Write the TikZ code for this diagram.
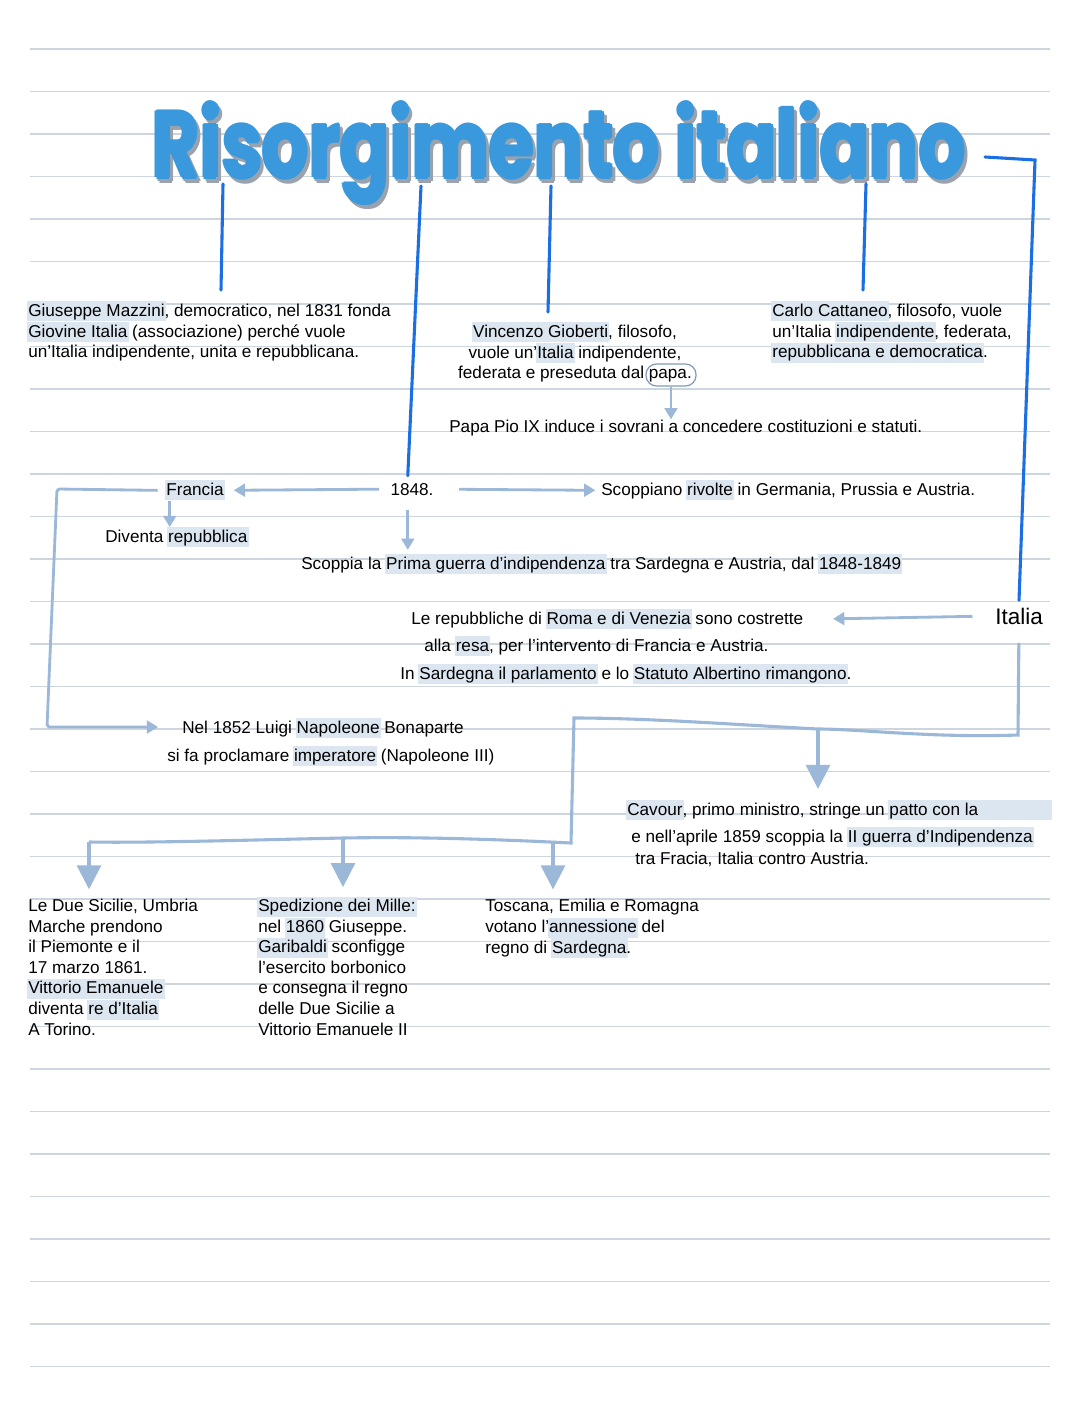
\documentclass[tikz,border=0pt]{standalone}
\usepackage{graphicx}
\usepackage{fontspec}
\setmainfont{Liberation Sans}
\newfontfamily\titlefont{Poppins}
\usetikzlibrary{arrows.meta,positioning}

\definecolor{pen}{HTML}{1C6FE3}
\definecolor{freccia}{HTML}{9BB8D8}
\definecolor{evid}{HTML}{DCE6F0}
\definecolor{riga}{HTML}{CDD5DE}
\definecolor{titolo}{HTML}{3A98DD}
\definecolor{ombra}{HTML}{9AA3AD}

\newcommand{\ev}[1]{{\setlength{\fboxsep}{0.8pt}\kern-0.8pt\colorbox{evid}{\vrule width0pt height9.6pt depth3pt #1}\kern-0.8pt}}
\newcommand{\titolotesto}{\resizebox{578pt}{54pt}{Risorgimento italiano}}

\tikzset{
  testo/.style={font=\fontsize{12.2}{14.9}\selectfont, inner sep=0pt, align=left},
  testob/.style={font=\fontsize{12.2}{14.6}\selectfont, inner sep=0pt, align=left},
  titstile/.style={font=\titlefont\bfseries, anchor=base west, inner sep=0pt},
  penna/.style={draw=pen, line width=2.2pt, line cap=round},
  frec/.style={draw=freccia, line width=2pt, -{Triangle[width=9pt,length=8pt]}},
  frecgr/.style={draw=freccia, line width=2.2pt, -{Triangle[width=17pt,length=17pt]}},
  cerchio/.style={draw=freccia!85!black, line width=0.9pt, rounded corners=7.5pt, minimum width=1.25cm, minimum height=0.55cm, inner sep=0pt},
}

\begin{document}
\begin{tikzpicture}[x=0.025cm,y=-0.025cm]
\fill[white] (0,0) rectangle (1080,1417);
\useasboundingbox (0,0) rectangle (1080,1417);
% righe del quaderno
\foreach \r in {0,...,31} \draw[riga, line width=0.8pt] (30,49+42.5*\r) -- (1050,49+42.5*\r);

% titolo (ombra + lettere ingrossate)
\foreach \dx/\dy in {-1.5/0,1.5/0,0/-1.5,0/1.5}
  \node [titstile, text=ombra] at (155+\dx,182+\dy) {\titolotesto};
\foreach \dx/\dy in {-1.5/0,1.5/0,0/-1.5,0/1.5}
  \node [titstile, text=titolo] at (152+\dx,178+\dy) {\titolotesto};
\node [titstile, text=titolo] (titolo) at (152,178) {\titolotesto};

% i tre pensatori (base = ultima riga)
\node [testo, anchor=base west] (mazzini) at (28,358) {\ev{Giuseppe Mazzini}, democratico, nel 1831 fonda\\ \ev{Giovine Italia} (associazione) perché vuole\\ un'Italia indipendente, unita e repubblicana.};
\node [testo, align=center, anchor=base] (gioberti) at (575,379) {\ev{Vincenzo Gioberti}, filosofo,\\ vuole un'\ev{Italia} indipendente,\\ federata e preseduta dal papa.};
\node [testo, anchor=base west] (cattaneo) at (772,358) {\ev{Carlo Cattaneo}, filosofo, vuole\\ un'Italia \ev{indipendente}, federata,\\ \ev{repubblicana e democratica}.};
\node [cerchio] (papa) at (671,375) {};
\node [testo, anchor=base west] (pio) at (449,432) {Papa Pio IX induce i sovrani a concedere costituzioni e statuti.};
\draw [frec] (papa.south) -- (papa.south |- pio.north);

% 1848
\node [testo, anchor=base] (anno) at (412,495) {1848.};
\node [testo, anchor=base] (francia) at (195,495) {\ev{Francia}};
\node [testo, anchor=base west] (rivolte) at (601,495) {Scoppiano \ev{rivolte} in Germania, Prussia e Austria.};
\node [testo, anchor=base west] (diventa) at (105,542) {Diventa \ev{repubblica}};
\node [testo, anchor=base west] (guerra) at (301,569) {Scoppia la \ev{Prima guerra d'indipendenza} tra Sardegna e Austria, dal \ev{1848-1849}};
\draw [frec, shorten <=8pt, shorten >=7pt] (anno.west) -- (francia.east);
\draw [frec, shorten <=18pt, shorten >=4pt] (anno.east) -- (rivolte.west);
\draw [frec] ([xshift=-18pt]francia.south) -- ([xshift=-18pt]francia.south |- diventa.north);
\draw [frec, shorten <=10pt, shorten >=3pt] ([xshift=-3pt]anno.south) -- ([xshift=-3pt]anno.south |- guerra.north);

% Italia
\node [font=\fontsize{16}{19}\selectfont, inner sep=0pt, anchor=base] (italia) at (1019,624) {Italia};
\node [testo, anchor=base west] (roma) at (411,624) {Le repubbliche di \ev{Roma e di Venezia} sono costrette};
\node [testo, anchor=base west] (resa) at (424,651) {alla \ev{resa}, per l'intervento di Francia e Austria.};
\node [testo, anchor=base west] (statuto) at (400,679) {In \ev{Sardegna il parlamento} e lo \ev{Statuto Albertino rimangono}.};
\draw [frec, shorten <=16pt, shorten >=21pt] (italia.west) -- (roma.east);

% tratti a penna dal titolo
\draw [penna] (223,184) -- (221,290);
\draw [penna] (421,186) -- ([xshift=-3pt,yshift=5pt]anno.north);
\draw [penna] (551,186) -- (548,312);
\draw [penna] (866,184) -- (863,290);
\draw [penna] (985,157) -- (1035,160) -- ([yshift=5pt]italia.north);

% Napoleone III
\node [testo, anchor=base west] (napoleone) at (182,733) {Nel 1852 Luigi \ev{Napoleone} Bonaparte};
\node [testo, anchor=base west] (imperatore) at (167,761) {si fa proclamare \ev{imperatore} (Napoleone III)};
\draw [frec, rounded corners=2pt] ([xshift=-6pt]francia.west) -- (57,489) -- (47,727) -- ([xshift=-17pt]napoleone.west |- 0,727);

% Cavour
\node [testo, anchor=base west] (cavour) at (627,815) {\ev{Cavour}, primo ministro, stringe un \ev{patto con la\hspace{52pt}}};
\node [testo, anchor=base west] (aprile) at (631,842) {e nell'aprile 1859 scoppia la \ev{II guerra d'Indipendenza}};
\node [testo, anchor=base west] (fracia) at (635,864) {tra Fracia, Italia contro Austria.};

% unificazione (base = ultima riga)
\node [testob, anchor=base west] (sicilie) at (28,1035) {Le Due Sicilie, Umbria\\ Marche prendono\\ il Piemonte e il\\ 17 marzo 1861.\\ \ev{Vittorio Emanuele}\\ diventa \ev{re d'Italia}\\ A Torino.};
\node [testob, anchor=base west] (mille) at (258,1035) {\ev{Spedizione dei Mille:}\\ nel \ev{1860} Giuseppe.\\ \ev{Garibaldi} sconfigge\\ l'esercito borbonico\\ e consegna il regno\\ delle Due Sicilie a\\ Vittorio Emanuele II};
\node [testob, anchor=base west] (toscana) at (485,953) {Toscana, Emilia e Romagna\\ votano l'\ev{annessione} del\\ regno di \ev{Sardegna}.};

\coordinate (b0) at (818,729);
\coordinate (b1) at (89,842);
\coordinate (b2) at (343,838);
\coordinate (b3) at (553,843);
\draw [draw=freccia, line width=2.2pt, shorten <=13pt] (italia.south) -- (1018,735) .. controls (930,738) and (860,729) .. (b0) .. controls (740,725) and (650,718) .. (574,718) -- (571,843) .. controls (470,838) and (400,837) .. (b2) .. controls (250,840) and (150,843) .. (b1);
\draw [frecgr, shorten >=8pt] (b0) -- (b0 |- cavour.north);
\draw [frecgr, shorten >=7pt] (b1) -- (b1 |- sicilie.north);
\draw [frecgr, shorten >=7pt] (b2) -- (b2 |- mille.north);
\draw [frecgr, shorten >=7pt] (b3) -- (b3 |- toscana.north);
\end{tikzpicture}
\end{document}
